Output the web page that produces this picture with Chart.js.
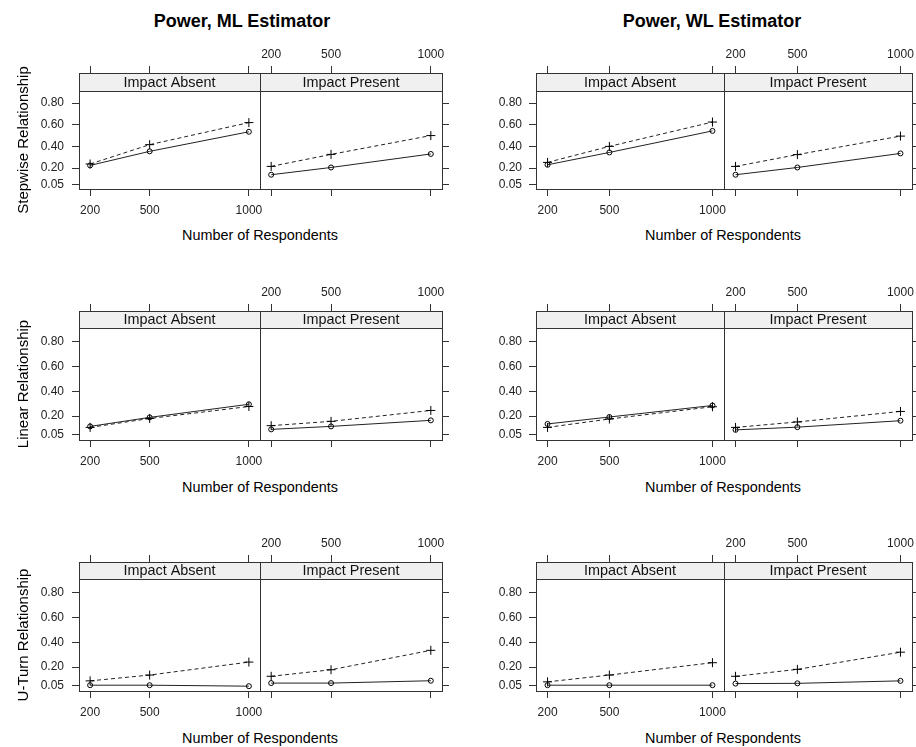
<!DOCTYPE html>
<html>
<head>
<meta charset="utf-8">
<script src="https://cdn.jsdelivr.net/npm/chart.js@4.4.1/dist/chart.umd.min.js"></script>
<style>
  body { margin: 0; background: #fff; width: 916px; height: 747px; position: relative; overflow: hidden;
         font-family: "Liberation Sans", Arial, sans-serif; color: #000; }
  canvas { position: absolute; }
  .txt { position: absolute; white-space: nowrap; line-height: 1; transform: translate(-50%, -50%); }
  .main { font-weight: bold; font-size: 18px; }
  .xt { font-size: 14.4px; }
  .yt { font-size: 15px; transform: translate(-50%, -50%) rotate(-90deg); }
</style>
</head>
<body>
<script>
// labels
var respondents = [200, 500, 1000];
var yTickValues = [0.05, 0.20, 0.40, 0.60, 0.80];
var estimatorTitles = ['Power, ML Estimator', 'Power, WL Estimator'];
var relationLabels = ['Stepwise Relationship', 'Linear Relationship', 'U-Turn Relationship'];
var impactLabels = ['Impact Absent', 'Impact Present'];
var xAxisTitle = 'Number of Respondents';

// power values at 200 / 500 / 1000 respondents
// "Dash" = dashed line with + markers, "Solid" = solid line with open circles
var mlStepAbsentDash   = [0.237, 0.416, 0.620];
var mlStepAbsentSolid  = [0.224, 0.354, 0.535];
var mlStepPresentDash  = [0.215, 0.326, 0.500];
var mlStepPresentSolid = [0.138, 0.205, 0.330];

var wlStepAbsentDash   = [0.252, 0.400, 0.625];
var wlStepAbsentSolid  = [0.230, 0.344, 0.543];
var wlStepPresentDash  = [0.215, 0.324, 0.495];
var wlStepPresentSolid = [0.138, 0.205, 0.335];

var mlLinAbsentDash   = [0.108, 0.180, 0.277];
var mlLinAbsentSolid  = [0.116, 0.189, 0.295];
var mlLinPresentDash  = [0.122, 0.157, 0.245];
var mlLinPresentSolid = [0.092, 0.116, 0.165];

var wlLinAbsentDash   = [0.108, 0.176, 0.275];
var wlLinAbsentSolid  = [0.136, 0.192, 0.285];
var wlLinPresentDash  = [0.108, 0.152, 0.237];
var wlLinPresentSolid = [0.088, 0.110, 0.162];

var mlUAbsentDash   = [0.088, 0.135, 0.240];
var mlUAbsentSolid  = [0.053, 0.053, 0.045];
var mlUPresentDash  = [0.125, 0.178, 0.335];
var mlUPresentSolid = [0.070, 0.070, 0.089];

var wlUAbsentDash   = [0.080, 0.135, 0.235];
var wlUAbsentSolid  = [0.053, 0.053, 0.053];
var wlUPresentDash  = [0.125, 0.181, 0.320];
var wlUPresentSolid = [0.066, 0.068, 0.088];

// [row][col] -> [absentDash, absentSolid, presentDash, presentSolid]
var panelData = [
  [[mlStepAbsentDash, mlStepAbsentSolid, mlStepPresentDash, mlStepPresentSolid],
   [wlStepAbsentDash, wlStepAbsentSolid, wlStepPresentDash, wlStepPresentSolid]],
  [[mlLinAbsentDash, mlLinAbsentSolid, mlLinPresentDash, mlLinPresentSolid],
   [wlLinAbsentDash, wlLinAbsentSolid, wlLinPresentDash, wlLinPresentSolid]],
  [[mlUAbsentDash, mlUAbsentSolid, mlUPresentDash, mlUPresentSolid],
   [wlUAbsentDash, wlUAbsentSolid, wlUPresentDash, wlUPresentSolid]]
];

// layout (page pixels)
var X_MIN = 144, X_MAX = 1056, Y_MIN = 0.006, Y_MAX = 0.912;
var cols = [
  { left: 79,  mid: 260, right: 442, titleX: 242, xTitleX: 260, labelPad: 8 },
  { left: 536, mid: 724, right: 912, titleX: 712, xTitleX: 723, labelPad: 7 }
];
var rows = [
  { top: 73,  strip: 91,  bottom: 189, xTitleY: 235, yTitleY: 140 },
  { top: 311, strip: 328, bottom: 440, xTitleY: 487, yTitleY: 384 },
  { top: 562, strip: 579, bottom: 691, xTitleY: 738, yTitleY: 635 }
];
var TICK = 7, TOP_H = 34, BOT_H = 34, LEFT_W = 70, RIGHT_W = 12, PAD = 10;
var FONT = '"Liberation Sans", Arial, sans-serif';
var INK = '#222';

var stripPlugin = {
  id: 'strip',
  afterDatasetsDraw: function (chart, args, opts) {
    var a = chart.chartArea, ctx = chart.ctx;
    var w = a.right - a.left, h = a.bottom - a.top;
    ctx.save();
    ctx.fillStyle = '#f0f0f0';
    ctx.fillRect(a.left, a.top, w, opts.height);
    ctx.strokeStyle = '#333';
    ctx.lineWidth = 1;
    ctx.beginPath();
    ctx.moveTo(a.left, a.top + opts.height + 0.5);
    ctx.lineTo(a.right, a.top + opts.height + 0.5);
    ctx.stroke();
    ctx.strokeRect(a.left + 0.5, a.top + 0.5, w, h);
    ctx.fillStyle = '#111';
    ctx.font = '14.4px ' + FONT;
    ctx.textAlign = 'center';
    ctx.textBaseline = 'middle';
    ctx.fillText(opts.text, (a.left + a.right) / 2, a.top + opts.height / 2 + 1);
    ctx.restore();
  }
};

function toPoints(vals) {
  return respondents.map(function (n, i) { return { x: n, y: vals[i] }; });
}

function fixTicks(values) {
  return function (s) { s.ticks = values.map(function (v) { return { value: v }; }); };
}

function makePanel(r, c, side) {
  var col = cols[c], row = rows[r];
  var isLeft = side === 0;
  var vals = panelData[r][c];
  var boxL = isLeft ? col.left : col.mid;
  var boxR = isLeft ? col.mid : col.right;
  var padL = isLeft ? LEFT_W : PAD;
  var padR = isLeft ? PAD : RIGHT_W;
  var stripH = row.strip - row.top;
  var yMaxExt = Y_MAX + stripH * (Y_MAX - Y_MIN) / (row.bottom - row.strip);

  var canvas = document.createElement('canvas');
  canvas.width = padL + (boxR - boxL) + padR;
  canvas.height = TOP_H + (row.bottom - row.top) + BOT_H;
  canvas.style.left = (boxL - padL) + 'px';
  canvas.style.top = (row.top - TOP_H) + 'px';
  document.body.appendChild(canvas);

  var tickFont = { family: FONT, size: 12 };
  var grid = { drawOnChartArea: false, drawTicks: true, tickLength: TICK, color: '#333', lineWidth: 1 };

  new Chart(canvas, {
    type: 'line',
    data: {
      datasets: [{
        data: toPoints(vals[side * 2]),
        borderColor: INK, borderWidth: 1, borderDash: [4, 3],
        pointStyle: 'cross', pointRadius: 4.5, pointBorderColor: '#000', pointBorderWidth: 1,
        tension: 0, fill: false
      }, {
        data: toPoints(vals[side * 2 + 1]),
        borderColor: INK, borderWidth: 1,
        pointStyle: 'circle', pointRadius: 2.5, pointBorderColor: '#000', pointBorderWidth: 1,
        pointBackgroundColor: 'rgba(255,255,255,0)',
        tension: 0, fill: false
      }]
    },
    options: {
      responsive: false,
      animation: false,
      devicePixelRatio: 1,
      layout: { padding: { left: isLeft ? 0 : PAD, right: isLeft ? PAD : 0, top: 0, bottom: 0 } },
      plugins: {
        legend: { display: false },
        tooltip: { enabled: false },
        strip: { text: impactLabels[side], height: stripH }
      },
      scales: {
        x: {
          type: 'linear', position: 'bottom', min: X_MIN, max: X_MAX,
          afterBuildTicks: fixTicks(respondents),
          afterFit: function (s) { s.height = BOT_H; },
          ticks: { display: isLeft, font: tickFont, color: INK, padding: 7, maxRotation: 0,
                   callback: function (v) { return String(v); } },
          grid: grid, border: { display: false }
        },
        xTop: {
          type: 'linear', position: 'top', min: X_MIN, max: X_MAX,
          afterBuildTicks: fixTicks(respondents),
          afterFit: function (s) { s.height = TOP_H; },
          ticks: { display: !isLeft, font: tickFont, color: INK, padding: 4, maxRotation: 0,
                   callback: function (v) { return String(v); } },
          grid: grid, border: { display: false }
        },
        y: {
          type: 'linear', position: isLeft ? 'left' : 'right', min: Y_MIN, max: yMaxExt,
          afterBuildTicks: fixTicks(yTickValues),
          afterFit: function (s) { s.width = isLeft ? LEFT_W : RIGHT_W; },
          ticks: { display: isLeft, font: tickFont, color: INK, padding: col.labelPad,
                   callback: function (v) { return v.toFixed(2); } },
          grid: grid, border: { display: false }
        }
      }
    },
    plugins: [stripPlugin]
  });
}

function addText(text, cls, x, y) {
  var d = document.createElement('div');
  d.className = 'txt ' + cls;
  d.textContent = text;
  d.style.left = x + 'px';
  d.style.top = y + 'px';
  document.body.appendChild(d);
}

for (var c = 0; c < cols.length; c++) {
  addText(estimatorTitles[c], 'main', cols[c].titleX, 21);
  for (var r = 0; r < rows.length; r++) {
    makePanel(r, c, 0);
    makePanel(r, c, 1);
    addText(xAxisTitle, 'xt', cols[c].xTitleX, rows[r].xTitleY);
  }
}
for (var r2 = 0; r2 < rows.length; r2++) {
  addText(relationLabels[r2], 'yt', 22, rows[r2].yTitleY);
}
</script>
</body>
</html>
